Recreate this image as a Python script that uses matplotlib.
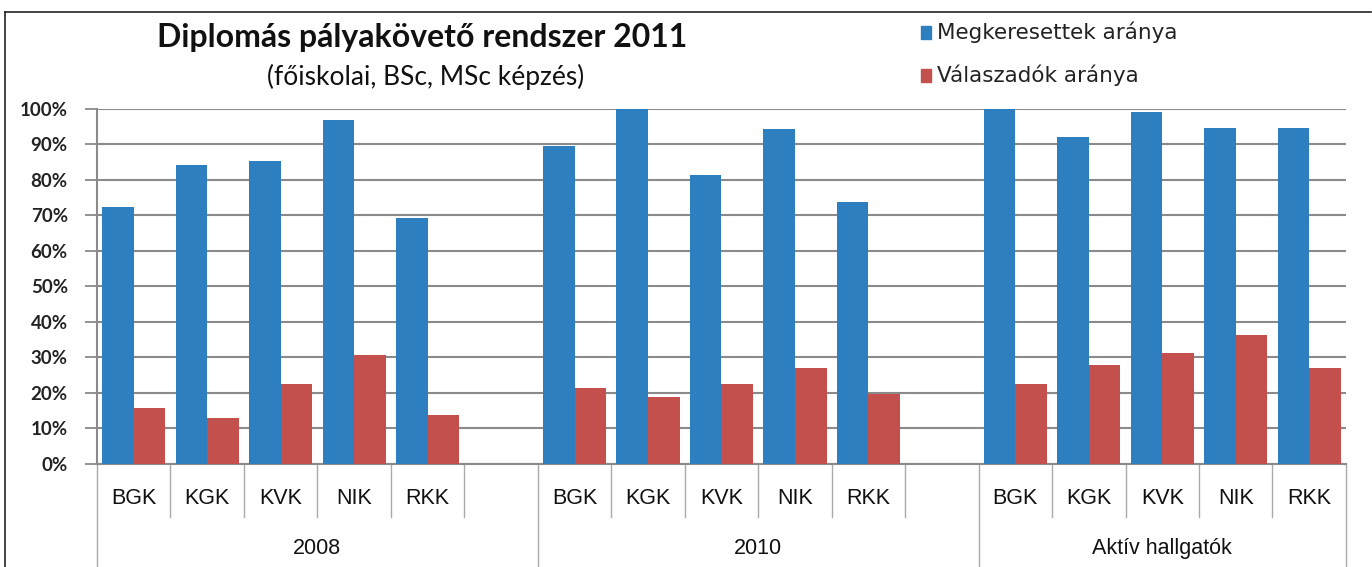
import matplotlib
matplotlib.use("Agg")
import matplotlib.pyplot as plt
from matplotlib.patches import Rectangle

# data
groups = ["2008", "2010", "Aktív hallgatók"]
faculties = ["BGK", "KGK", "KVK", "NIK", "RKK"]
series_names = ["Megkeresettek aránya", "Válaszadók aránya"]

megkeresett_2008 = [72.3, 84.0, 85.2, 96.9, 69.2]
valaszado_2008 = [15.5, 12.7, 22.5, 30.7, 13.6]
megkeresett_2010 = [89.4, 100.0, 81.2, 94.2, 73.7]
valaszado_2010 = [21.4, 18.8, 22.3, 26.8, 19.7]
megkeresett_aktiv = [100.0, 92.0, 98.9, 94.6, 94.6]
valaszado_aktiv = [22.3, 27.7, 31.0, 36.3, 26.8]

# slots per group (first two groups have an empty slot at the end)
group_slots = [6, 6, 5]

blue = "#2e7fbf"
red = "#c4504e"
grid_col = "#8a8a8a"
font = ["Lato", "DejaVu Sans"]
narrow = ["Liberation Sans Narrow", "Liberation Sans", "DejaVu Sans"]

fig = plt.figure(figsize=(13.72, 5.67), dpi=100)
ax = fig.add_axes([0.0707, 0.1825, 0.9103, 0.6261])

megk = [megkeresett_2008, megkeresett_2010, megkeresett_aktiv]
vala = [valaszado_2008, valaszado_2010, valaszado_aktiv]

w = 0.43
start = 0
for g in range(len(groups)):
    for i, fac in enumerate(faculties):
        c = start + i + 0.5
        ax.bar(c - w / 2, megk[g][i], width=w, color=blue, zorder=3,
               label=series_names[0] if (g == 0 and i == 0) else None)
        ax.bar(c + w / 2, vala[g][i], width=w, color=red, zorder=3,
               label=series_names[1] if (g == 0 and i == 0) else None)
    start += group_slots[g]

total = sum(group_slots)
ax.set_xlim(0, total)
ax.set_ylim(0, 100)
ax.set_yticks(range(0, 101, 10))
ax.set_yticklabels([f"{v}%" for v in range(0, 101, 10)], family=font,
                   fontsize=13.5, fontweight="bold", color="#222222")
ax.tick_params(axis="y", length=9, width=1.3, color=grid_col, pad=12)
ax.set_xticks([])
ax.yaxis.grid(True, color=grid_col, linewidth=1.5, zorder=0)
for s in ["top", "right"]:
    ax.spines[s].set_visible(False)
ax.spines["left"].set_color(grid_col)
ax.spines["left"].set_linewidth(1.5)
ax.spines["bottom"].set_color(grid_col)
ax.spines["bottom"].set_linewidth(1.5)

# category separators and labels below the axis
tr = ax.get_xaxis_transform()
start = 0
for g, n in enumerate(group_slots):
    for k in range(n):
        if k > 0:
            ax.plot([start + k, start + k], [0, -0.15], transform=tr,
                    color="#aaaaaa", lw=1, clip_on=False)
        if k < len(faculties):
            ax.text(start + k + 0.5, -0.098, faculties[k], transform=tr,
                    ha="center", va="center", fontsize=15.5, family=narrow,
                    color="#111111")
    ax.plot([start, start], [0, -0.30], transform=tr, color="#aaaaaa",
            lw=1, clip_on=False)
    ax.text(start + n / 2, -0.24, groups[g], transform=tr, ha="center",
            va="center", fontsize=15.5, family=narrow, color="#111111")
    start += n
ax.plot([start, start], [0, -0.30], transform=tr, color="#aaaaaa",
        lw=1, clip_on=False)

# title
fig.text(0.308, 0.933, "Diplomás pályakövető rendszer 2011", ha="center",
         va="center", fontsize=23, fontweight="bold", family=font,
         color="#111111")
fig.text(0.31, 0.864, "(főiskolai, BSc, MSc képzés)", ha="center",
         va="center", fontsize=19, family=font, color="#111111")

# legend
for j, (name, col) in enumerate(zip(series_names, [blue, red])):
    y = 0.943 - j * 0.076
    fig.patches.append(Rectangle((0.671, y - 0.011), 0.0075, 0.022,
                                 transform=fig.transFigure, color=col))
    fig.text(0.683, y, name, ha="left", va="center", fontsize=15.5,
             family=["DejaVu Sans"], color="#222222")

# outer chart border
fig.add_artist(plt.Line2D([0.004, 0.004], [0, 0.979], color="#222222", lw=1.2))
fig.add_artist(plt.Line2D([0.004, 0.999], [0.979, 0.979], color="#222222", lw=1.2))

fig.savefig("out.png", dpi=100)
